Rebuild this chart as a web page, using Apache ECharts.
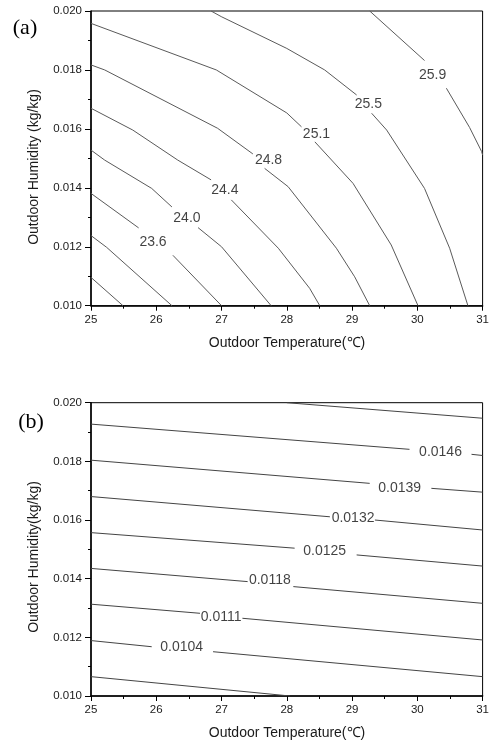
<!DOCTYPE html>
<html>
<head>
<meta charset="utf-8">
<script src="https://cdn.jsdelivr.net/npm/echarts@6/dist/echarts.min.js"></script>
<style>html,body{margin:0;padding:0;background:#fff}#c{width:492px;height:744px}</style>
</head>
<body>
<div id="c"></div>
<script>
// ---- axis ticks ----
const xTicks = [25, 26, 27, 28, 29, 30, 31];
const yTicks = [0.010, 0.012, 0.014, 0.016, 0.018, 0.020];

// ---- panel (a): contour lines of indoor temperature, each as segments (gaps for labels) ----
const a1 = [[[25.00,0.01096],[25.49,0.01000]]];
const a2 = [[[25.00,0.01238],[25.24,0.01198],[26.24,0.01000]]];
const a3 = [[[25.00,0.01381],[25.73,0.01264]],[[26.255,0.01171],[27.00,0.01000]]];
const a4 = [[[25.00,0.01528],[25.21,0.01494],[25.93,0.01398],[26.24,0.01335]],[[26.64,0.01265],[27.00,0.01200],[27.76,0.01000]]];
const a5 = [[[25.00,0.01670],[25.64,0.01596],[26.33,0.01494],[26.84,0.01427]],[[27.15,0.01359],[27.87,0.01195],[28.35,0.01059],[28.505,0.01000]]];
const a6 = [[[25.00,0.01817],[25.21,0.01800],[26.94,0.01602],[27.48,0.01515]],[[27.66,0.01466],[28.02,0.01404],[28.76,0.01195],[29.04,0.01098],[29.27,0.01000]]];
const a7 = [[[25.00,0.01958],[26.92,0.01800],[28.00,0.01654],[28.225,0.01607]],[[28.43,0.01556],[29.015,0.01415],[29.60,0.01206],[30.01,0.01000]]];
const a8 = [[[26.84,0.02000],[26.995,0.01981],[28.00,0.01873],[28.58,0.01800],[29.07,0.01715]],[[29.30,0.01653],[29.53,0.01596],[30.11,0.01398],[30.495,0.01195],[30.775,0.01000]]];
const a9 = [[[29.27,0.02000],[30.11,0.01832]],[[30.445,0.01738],[30.80,0.01605],[30.985,0.01523],[31.00,0.01511]]];
const labelsA = [
  ['23.6', 25.95, 0.01215],
  ['24.0', 26.47, 0.01297],
  ['24.4', 27.05, 0.01393],
  ['24.8', 27.72, 0.01494],
  ['25.1', 28.455, 0.01583],
  ['25.5', 29.25, 0.01684],
  ['25.9', 30.235, 0.01783]
];

// ---- panel (b): contour lines of indoor humidity ----
const b1 = [[[28.00,0.02000],[31.00,0.01947]]];
const b2 = [[[25.00,0.01927],[29.88,0.01841]],[[30.83,0.01824],[31.00,0.01820]]];
const b3 = [[[25.00,0.01804],[29.27,0.01725]],[[30.215,0.01708],[31.00,0.01695]]];
const b4 = [[[25.00,0.01680],[28.66,0.01611]],[[29.35,0.01600],[31.00,0.01566]]];
const b5 = [[[25.00,0.01557],[28.12,0.01504]],[[29.07,0.01481],[31.00,0.01443]]];
const b6 = [[[25.00,0.01435],[27.40,0.01390]],[[28.10,0.01373],[31.00,0.01316]]];
const b7 = [[[25.00,0.01313],[26.67,0.01282]],[[27.32,0.01265],[31.00,0.01191]]];
const b8 = [[[25.00,0.01189],[25.93,0.01168]],[[26.87,0.01151],[31.00,0.01066]]];
const b9 = [[[25.00,0.01066],[28.05,0.01000]]];
const labelsB = [
  ['0.0146', 30.355, 0.01830],
  ['0.0139', 29.73, 0.01708],
  ['0.0132', 29.015, 0.01605],
  ['0.0125', 28.58, 0.01495],
  ['0.0118', 27.74, 0.01396],
  ['0.0111', 26.995, 0.01270],
  ['0.0104', 26.39, 0.01167]
];

const linesA = [a1,a2,a3,a4,a5,a6,a7,a8,a9];
const linesB = [b1,b2,b3,b4,b5,b6,b7,b8,b9];

const SANS = '"Liberation Sans", Arial, sans-serif';
const SERIF = '"Liberation Serif", "Times New Roman", serif';

function contourSeries(lines, gi, color) {
  const out = [];
  lines.forEach(line => line.forEach(seg => out.push({
    type: 'line', xAxisIndex: gi, yAxisIndex: gi, data: seg,
    showSymbol: false, symbol: 'none', smooth: false,
    lineStyle: { color: color, width: 1 }, silent: true, z: 2
  })));
  return out;
}
function labelSeries(labels, gi) {
  return {
    type: 'scatter', xAxisIndex: gi, yAxisIndex: gi, symbolSize: 1,
    itemStyle: { color: 'rgba(0,0,0,0)' }, silent: true, z: 5,
    data: labels.map(l => ({ value: [l[1], l[2]], label: { formatter: l[0] } })),
    label: { show: true, position: 'inside', color: '#111', fontSize: 14, fontFamily: SANS }
  };
}
function xAx(gi) {
  return {
    type: 'value', gridIndex: gi, min: xTicks[0], max: xTicks[xTicks.length - 1], interval: 1,
    axisLine: { show: true, onZero: false, lineStyle: { color: '#000', width: 1.5 } },
    axisTick: { show: true, inside: false, length: 5, lineStyle: { color: '#000', width: 1 } },
    minorTick: { show: true, splitNumber: 2, length: 3, lineStyle: { color: '#000', width: 1 } },
    splitLine: { show: false }, minorSplitLine: { show: false },
    axisLabel: { color: '#1a1a1a', fontSize: 11.5, fontFamily: SANS, margin: 8 }
  };
}
function yAx(gi) {
  return {
    type: 'value', gridIndex: gi, min: yTicks[0], max: yTicks[yTicks.length - 1], interval: 0.002,
    axisLine: { show: true, onZero: false, lineStyle: { color: '#000', width: 1.5 } },
    axisTick: { show: true, inside: false, length: 6, lineStyle: { color: '#000', width: 1 } },
    minorTick: { show: true, splitNumber: 2, length: 3, lineStyle: { color: '#000', width: 1 } },
    splitLine: { show: false }, minorSplitLine: { show: false },
    axisLabel: { color: '#1a1a1a', fontSize: 11.5, fontFamily: SANS, margin: 9, formatter: v => v.toFixed(3) }
  };
}

const chart = echarts.init(document.getElementById('c'), null, { renderer: 'canvas' });
chart.setOption({
  animation: false,
  backgroundColor: '#fff',
  grid: [
    { left: 91, top: 11, width: 392, height: 294.7, show: true, borderColor: '#000', borderWidth: 1 },
    { left: 91, top: 402.7, width: 392, height: 293.3, show: true, borderColor: '#000', borderWidth: 1 }
  ],
  xAxis: [xAx(0), xAx(1)],
  yAxis: [yAx(0), yAx(1)],
  series: [
    ...contourSeries(linesA, 0, '#5a5a5a'),
    labelSeries(labelsA, 0),
    ...contourSeries(linesB, 1, '#444'),
    labelSeries(labelsB, 1)
  ],
  graphic: [
    { type: 'text', x: 25, y: 28, style: { text: '(a)', font: '22px ' + SERIF, fill: '#000', align: 'center', verticalAlign: 'middle' } },
    { type: 'text', x: 31, y: 422, style: { text: '(b)', font: '22px ' + SERIF, fill: '#000', align: 'center', verticalAlign: 'middle' } },
    { type: 'text', x: 287, y: 343, style: { text: 'Outdoor Temperature(℃)', font: '14px ' + SANS, fill: '#1a1a1a', align: 'center', verticalAlign: 'middle' } },
    { type: 'text', x: 287, y: 733, style: { text: 'Outdoor Temperature(℃)', font: '14px ' + SANS, fill: '#1a1a1a', align: 'center', verticalAlign: 'middle' } },
    { type: 'text', x: 34, y: 167, rotation: Math.PI / 2, style: { text: 'Outdoor Humidity (kg/kg)', font: '14px ' + SANS, fill: '#1a1a1a', align: 'center', verticalAlign: 'middle' } },
    { type: 'text', x: 34, y: 557, rotation: Math.PI / 2, style: { text: 'Outdoor Humidity(kg/kg)', font: '14px ' + SANS, fill: '#1a1a1a', align: 'center', verticalAlign: 'middle' } }
  ]
});
</script>
</body>
</html>
